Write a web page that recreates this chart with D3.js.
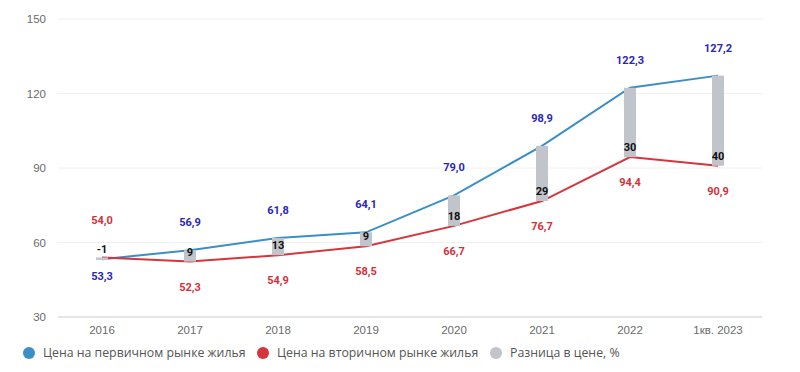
<!DOCTYPE html>
<html>
<head>
<meta charset="utf-8">
<script src="https://cdn.jsdelivr.net/npm/d3@7"></script>
<style>
  body { margin: 0; background: #fff; }
  svg { font-family: Roboto, "Noto Sans", sans-serif; }
</style>
</head>
<body>
<svg id="chart" width="800" height="372"></svg>
<script>
// data
var years = ["2016", "2017", "2018", "2019", "2020", "2021", "2022", "1кв. 2023"];
var primary = [53.3, 56.9, 61.8, 64.1, 79.0, 98.9, 122.3, 127.2];
var secondary = [54.0, 52.3, 54.9, 58.5, 66.7, 76.7, 94.4, 90.9];
var diffPct = [-1, 9, 13, 9, 18, 29, 30, 40];
var yTicks = [30, 60, 90, 120, 150];

var legendItems = [
  { name: "Цена на первичном рынке жилья", color: "#3b8ec8" },
  { name: "Цена на вторичном рынке жилья", color: "#d8343c" },
  { name: "Разница в цене, %", color: "#c2c4cc" }
];

var svg = d3.select("#chart");
// plot area (note: "top" is reserved on window, so use prefixed names)
var plotL = 58, plotR = 762, plotT = 19, plotB = 317;

var x = d3.scaleBand().domain(years).range([plotL, plotR]);
var y = d3.scaleLinear().domain([30, 150]).range([plotB, plotT]);
var cx = function(i){ return x(years[i]) + x.bandwidth() / 2; };

var fmt = function(v){ return d3.format(".1f")(v).replace(".", ","); };

// grid
svg.append("g").selectAll("line").data(yTicks).enter()
  .append("line")
  .attr("x1", plotL).attr("x2", plotR)
  .attr("y1", function(d){ return y(d); }).attr("y2", function(d){ return y(d); })
  .attr("stroke", function(d){ return d == 30 ? "#dcdde2" : "#f0f0f2"; })
  .attr("stroke-width", function(d){ return d == 30 ? 1.5 : 1; });

// y axis labels
var yAxis = svg.append("g").attr("transform", "translate(" + (plotL - 12) + ",0)")
  .call(d3.axisLeft(y).tickValues(yTicks).tickSize(0).tickPadding(0));
yAxis.select(".domain").remove();
yAxis.selectAll("text").attr("fill", "#6b6b6b").attr("font-size", 11.5);

// x axis labels
var xAxis = svg.append("g").attr("transform", "translate(0," + (plotB + 9) + ")")
  .call(d3.axisBottom(x).tickSize(0).tickPadding(0));
xAxis.select(".domain").remove();
xAxis.selectAll("text").attr("fill", "#6b6b6b").attr("font-size", 11.5);

// lines
var line = d3.line().x(function(d, i){ return cx(i); }).y(function(d){ return y(d); });
svg.append("path").datum(primary)
  .attr("d", line).attr("fill", "none")
  .attr("stroke", legendItems[0].color).attr("stroke-width", 2);
svg.append("path").datum(secondary)
  .attr("d", line).attr("fill", "none")
  .attr("stroke", legendItems[1].color).attr("stroke-width", 2);

// difference bars
var barW = 12;
svg.append("g").selectAll("rect").data(years).enter()
  .append("rect")
  .attr("x", function(d, i){ return cx(i) - barW / 2; })
  .attr("width", barW)
  .attr("y", function(d, i){ return y(Math.max(primary[i], secondary[i])); })
  .attr("height", function(d, i){ return Math.max(2.5, Math.abs(y(primary[i]) - y(secondary[i]))); })
  .attr("fill", legendItems[2].color);

// difference labels
svg.append("g").selectAll("text").data(diffPct).enter()
  .append("text")
  .attr("x", function(d, i){ return cx(i); })
  .attr("y", function(d, i){ return y(Math.min(primary[i], secondary[i])) - 6; })
  .attr("text-anchor", "middle")
  .attr("font-size", 11).attr("font-weight", "bold").attr("fill", "#111")
  .text(function(d){ return d; });

// value labels: higher series above, lower below
svg.append("g").selectAll("text").data(primary).enter()
  .append("text")
  .attr("x", function(d, i){ return cx(i); })
  .attr("y", function(d, i){ return d >= secondary[i] ? y(d) - 24 : y(d) + 21; })
  .attr("text-anchor", "middle")
  .attr("font-size", 11).attr("font-weight", "bold").attr("fill", "#2b25b8")
  .text(function(d){ return fmt(d); });
svg.append("g").selectAll("text").data(secondary).enter()
  .append("text")
  .attr("x", function(d, i){ return cx(i); })
  .attr("y", function(d, i){ return d > primary[i] ? y(d) - 33 : y(d) + 29; })
  .attr("text-anchor", "middle")
  .attr("font-size", 11).attr("font-weight", "bold").attr("fill", "#d3303a")
  .text(function(d){ return fmt(d); });

// legend
var legendX = [29, 263, 496];
var lg = svg.append("g").selectAll("g").data(legendItems).enter()
  .append("g")
  .attr("transform", function(d, i){ return "translate(" + legendX[i] + ",353)"; });
lg.append("circle").attr("r", 6).attr("fill", function(d){ return d.color; });
lg.append("text").attr("x", 14).attr("dy", "0.35em")
  .attr("font-family", "'Open Sans', sans-serif")
  .attr("font-size", 12.3).attr("fill", "#555")
  .text(function(d){ return d.name; });
</script>
</body>
</html>
